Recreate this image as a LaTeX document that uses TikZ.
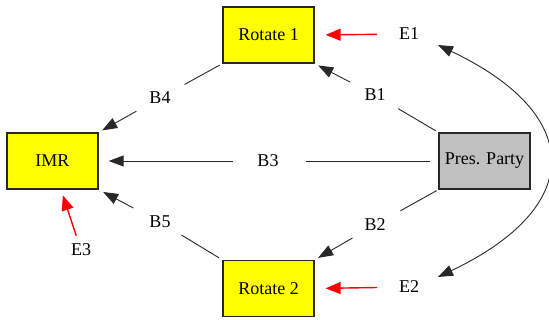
\documentclass[tikz,border=0pt]{standalone}
\usepackage{fontspec}
\setmainfont{Liberation Serif}
\usetikzlibrary{arrows.meta}
\definecolor{boxyellow}{RGB}{255,255,0}
\definecolor{boxgray}{RGB}{192,192,192}
\definecolor{edgeline}{RGB}{40,40,40}
\definecolor{errred}{RGB}{255,0,0}
\tikzset{
  varbox/.style={draw=edgeline, line width=1.3pt, fill=boxyellow, minimum width=91pt, minimum height=56pt, inner sep=0pt, font=\fontsize{18}{20}\selectfont},
  srcbox/.style={varbox, fill=boxgray},
  lbl/.style={inner sep=0pt, font=\fontsize{18}{20}\selectfont},
  path/.style={draw=edgeline, line width=0.9pt},
  patharrow/.style={path, -{Triangle[length=15pt,width=11pt]}},
  errarrow/.style={draw=errred, line width=1.4pt, -{Triangle[length=15pt,width=12pt]}},
  corr/.style={draw=edgeline, line width=0.9pt, {Triangle[length=15pt,width=11pt]}-{Triangle[length=15pt,width=11pt]}}
}
\begin{document}
\begin{tikzpicture}[x=1pt,y=-1pt]
\useasboundingbox (0,0) rectangle (549,320);

% variables
\node[varbox] (r1)  at (268.5,35)  {Rotate 1};
\node[varbox] (imr) at (52.5,161)  {IMR};
\node[srcbox] (pp)  at (484.5,161) {Pres. Party};
\node[varbox] (r2)  at (268.5,288.5) {Rotate 2};

% path and error labels
\node[lbl] (e1) at (409,34)  {E1};
\node[lbl] (e2) at (409,287) {E2};
\node[lbl] (e3) at (81,250)  {E3};
\node[lbl] (b1) at (375,95)  {B1};
\node[lbl] (b2) at (375,225) {B2};
\node[lbl] (b3) at (268,161) {B3};
\node[lbl] (b4) at (160,98)  {B4};
\node[lbl] (b5) at (160,222) {B5};

% paths, each broken by its coefficient label
\draw[path, shorten <=3pt, shorten >=27pt] (pp.north west) -- (b1.center);
\draw[patharrow, shorten <=28pt, shorten >=4pt] (b1.center) -- (r1.south east);

\draw[path, shorten <=2pt, shorten >=29pt] (pp.south west) -- (b2.center);
\draw[patharrow, shorten <=26pt, shorten >=4pt] (b2.center) -- (r2.north east);

\draw[path, shorten <=8pt, shorten >=38pt] (pp.west) -- (b3.center);
\draw[patharrow, shorten <=35pt, shorten >=10pt] (b3.center) -- (imr.east);

\draw[path, shorten <=3pt, shorten >=28pt] (r1.south west) -- (b4.center);
\draw[patharrow, shorten <=27pt, shorten >=4pt] (b4.center) -- (imr.north east);

\draw[path, shorten <=4pt, shorten >=25pt] (r2.north west) -- (b5.center);
\draw[patharrow, shorten <=30pt, shorten >=5pt] (b5.center) -- (imr.south east);

% disturbances
\draw[errarrow, shorten <=32pt, shorten >=11pt] (e1.center) -- (r1.east);
\draw[errarrow, shorten <=32pt, shorten >=11pt] (e2.center) -- (r2.east);
\draw[errarrow, shorten <=15pt, shorten >=6pt] (e3.center) -- ([xshift=8.5pt]imr.south);

% correlated disturbances E1 <-> E2
\coordinate (c1) at ([shift={(29,11)}]e1.center);
\coordinate (c2) at ([shift={(29,-10)}]e2.center);
\draw[corr] (c1) .. controls (585,115) and (585,207) .. (c2);
\end{tikzpicture}
\end{document}
